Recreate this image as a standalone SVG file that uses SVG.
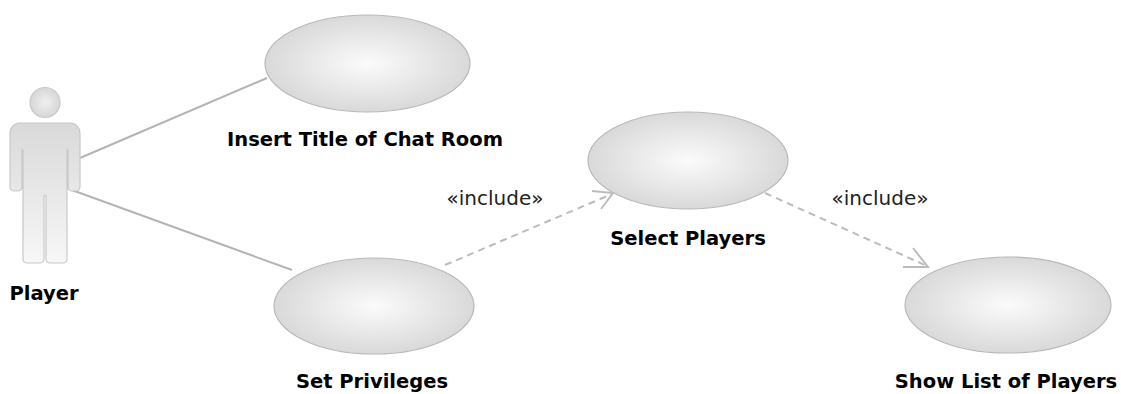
<svg xmlns="http://www.w3.org/2000/svg" width="1121" height="394" viewBox="0 0 1121 394">
  <style>
    .uc { fill: url(#ucGrad); stroke: #b9b9b9; stroke-width: 1.2; }
    .lbl { font-family: "DejaVu Sans", "Liberation Sans", sans-serif; font-weight: bold; font-size: 19.5px; fill: #000; text-anchor: middle; }
    .st { font-family: "DejaVu Sans", "Liberation Sans", sans-serif; font-size: 20px; fill: #222; text-anchor: middle; }
    .assoc { stroke: #b4b4b4; stroke-width: 2; fill: none; }
    .dep { stroke: #bcbcbc; stroke-width: 2; fill: none; stroke-dasharray: 7 5; }
    .head { stroke: #bcbcbc; stroke-width: 2; fill: none; }
  </style>
  <defs>
    <radialGradient id="ucGrad" cx="0.5" cy="0.5" r="0.5">
      <stop offset="0" stop-color="#fbfbfb"/>
      <stop offset="1" stop-color="#d9d9d9"/>
    </radialGradient>
    <linearGradient id="actGrad" x1="0" y1="0" x2="0" y2="1">
      <stop offset="0" stop-color="#d9d9d9"/>
      <stop offset="1" stop-color="#f7f7f7"/>
    </linearGradient>
    <radialGradient id="headGrad" cx="0.5" cy="0.5" r="0.5">
      <stop offset="0" stop-color="#f0f0f0"/>
      <stop offset="1" stop-color="#d6d6d6"/>
    </radialGradient>
  </defs>

  <g id="connectors">
    <line class="assoc" x1="80" y1="158" x2="267" y2="78"/>
    <line class="assoc" x1="69" y1="189" x2="292" y2="270"/>
    <line class="dep" x1="445" y1="265" x2="612" y2="194"/>
    <polyline class="head" points="592,191 613,193 601,209"/>
    <line class="dep" x1="765" y1="193" x2="927" y2="266"/>
    <polyline class="head" points="913,248 928,267 903,267"/>
    <text class="st" x="495" y="205">«include»</text>
    <text class="st" x="880" y="205">«include»</text>
  </g>

  <g id="actor-player">
    <circle cx="45" cy="102.5" r="15" fill="url(#headGrad)" stroke="#c8c8c8" stroke-width="1.2"/>
    <path d="M 20,123 H 70 A 10 10 0 0 1 80 133 V 187 A 4 4 0 0 1 76 191 H 72 A 4 4 0 0 1 68 187 V 150 H 67 V 259 A 4 4 0 0 1 63 263 H 50 A 4 4 0 0 1 46 259 V 196 A 1 1 0 0 0 44 196 V 259 A 4 4 0 0 1 40 263 H 27 A 4 4 0 0 1 23 259 V 150 H 22 V 187 A 4 4 0 0 1 18 191 H 14 A 4 4 0 0 1 10 187 V 133 A 10 10 0 0 1 20 123 Z" fill="url(#actGrad)" stroke="#c8c8c8" stroke-width="1.2"/>
    <text class="lbl" x="44" y="300">Player</text>
  </g>

  <g id="uc-insert-title">
    <ellipse class="uc" cx="367.5" cy="63.5" rx="102.5" ry="48.5"/>
    <text class="lbl" x="365" y="146">Insert Title of Chat Room</text>
  </g>

  <g id="uc-select-players">
    <ellipse class="uc" cx="688" cy="160.5" rx="100" ry="48.5"/>
    <text class="lbl" x="688" y="245">Select Players</text>
  </g>

  <g id="uc-set-privileges">
    <ellipse class="uc" cx="374" cy="306" rx="100" ry="48"/>
    <text class="lbl" x="372" y="388">Set Privileges</text>
  </g>

  <g id="uc-show-list">
    <ellipse class="uc" cx="1008" cy="305" rx="103" ry="48"/>
    <text class="lbl" x="1006" y="388">Show List of Players</text>
  </g>
</svg>
